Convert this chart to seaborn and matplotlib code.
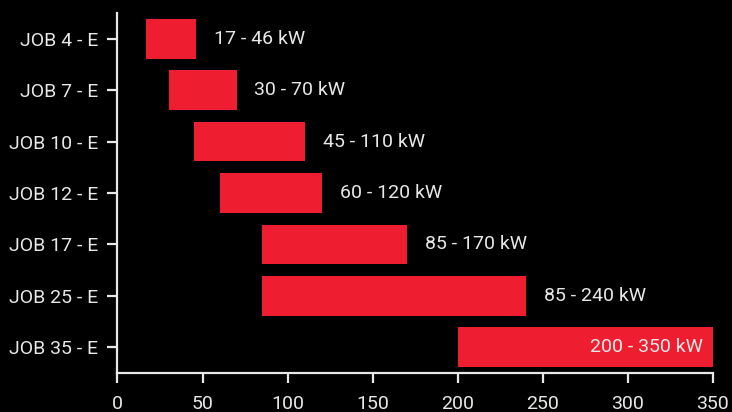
import matplotlib
matplotlib.use("Agg")
import matplotlib.pyplot as plt
import seaborn as sns

# power ranges per job (kW)
jobs = ["JOB 4 - E", "JOB 7 - E", "JOB 10 - E", "JOB 12 - E",
        "JOB 17 - E", "JOB 25 - E", "JOB 35 - E"]
low_kw = [17, 30, 45, 60, 85, 85, 200]
high_kw = [46, 70, 110, 120, 170, 240, 350]

bar_red = "#ee1d2f"
fg = "#e8e8e8"

sns.set_theme(style="ticks")
plt.rcParams["font.family"] = ["Roboto", "DejaVu Sans"]

fig, ax = plt.subplots(figsize=(7.32, 4.12), dpi=100)
fig.patch.set_facecolor("black")
ax.set_facecolor("black")
fig.subplots_adjust(left=0.1605, right=0.974, top=0.968, bottom=0.095)

widths = [h - l for l, h in zip(low_kw, high_kw)]
ax.barh(range(len(jobs)), widths, left=low_kw, height=0.77,
        color=bar_red, edgecolor="none", linewidth=0)

for i, (l, h) in enumerate(zip(low_kw, high_kw)):
    label = f"{l} - {h} kW"
    if h >= 350:
        ax.text(h - 6, i, label, ha="right", va="center", color=fg, fontsize=14)
    else:
        ax.text(h + 10.5, i, label, ha="left", va="center", color=fg, fontsize=14)

ax.set_yticks(range(len(jobs)))
ax.set_yticklabels(jobs)
ax.set_ylim(len(jobs) - 0.5, -0.5)
ax.set_xlim(0, 350)
ax.set_xticks(range(0, 351, 50))

sns.despine(ax=ax)
for side in ["left", "bottom"]:
    ax.spines[side].set_color(fg)
    ax.spines[side].set_linewidth(1.6)
ax.tick_params(colors=fg, labelsize=14, width=1.6, length=7)
ax.tick_params(axis="x", pad=9)
ax.tick_params(axis="y", pad=7)
ax.grid(False)

fig.savefig("out.png", dpi=100, facecolor="black")
